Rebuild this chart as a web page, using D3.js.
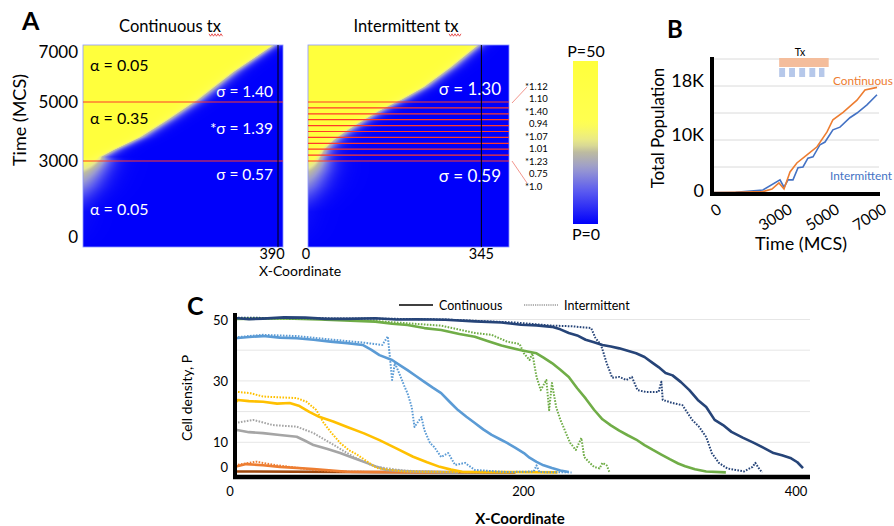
<!DOCTYPE html>
<html>
<head>
<meta charset="utf-8">
<script src="https://d3js.org/d3.v7.min.js"></script>
<style>
  body { margin: 0; background: #fff; }
  svg { font-family: Lato, "Open Sans", sans-serif; }
</style>
</head>
<body>
<svg id="fig" width="894" height="526"></svg>
<script>
// ---------------- panel A data ----------------
var hmTimeTicks = [0, 3000, 5000, 7000];
var contDoses = [3000, 5000];
var intDoses = [3000, 3200, 3400, 3600, 3800, 4000, 4200, 4400, 4600, 4800, 5000];
// front of the yellow (P=50) region
var contFrontT = [-390, 1000, 1500, 2000, 2600, 3000, 3140, 3370, 3810, 4390, 5080, 6200, 7280];
var contFrontX = [0, 0, 10, 22, 35, 42, 35, 60, 114, 168, 228, 300, 380];
var contPeak   = [0, 3, 10, 18, 26, 34, 50, 50, 50, 50, 50, 50, 50];
var contSpread = [16, 16, 16, 16, 15, 14, 11, 10, 10, 10, 10, 9, 8];
var intFrontT = [-390, 1000, 1500, 2000, 2600, 3000, 3030, 3370, 3710, 4050, 4390, 4730, 5080, 5600, 6400, 7280];
var intFrontX = [0, 0, 10, 20, 30, 32, 22, 30, 50, 78, 110, 144, 184, 230, 284, 338];
var intPeak   = [0, 3, 10, 18, 26, 34, 44, 50, 50, 50, 50, 50, 50, 50, 50, 50];
var intSpread = [16, 16, 16, 16, 15, 14, 13, 12, 11, 11, 10, 10, 10, 9, 9, 8];
var sigmaList = ["*1.12", "1.10", "*1.40", "0.94", "*1.07", "1.01", "*1.23", "0.75", "*1.0"];

// ---------------- panel B data ----------------
var timeCont = [0, 130, 1000, 2160, 2545, 2840, 3055, 3310, 3600, 4030, 4455, 4880, 5130, 5560, 6150, 6490, 7000];
var popCont  = [200, 200, 250, 350, 740, 1630, 740, 3260, 4600, 5800, 7000, 9200, 11000, 12100, 13900, 15400, 15800];
var timeInt = [0, 1000, 2160, 2885, 3055, 3225, 3435, 3650, 3860, 4070, 4285, 4580, 4795, 5130, 5430, 5850, 6150, 6575, 7000];
var popInt  = [200, 250, 600, 2100, 1000, 2100, 2100, 3900, 4000, 5300, 5500, 7300, 7700, 9500, 9900, 11300, 12000, 13200, 14700];
var txBar = [2850, 4950];
var txPulses = [[2850, 3100], [3270, 3520], [3700, 3950], [4130, 4380], [4540, 4770]];
var popTicks = [0, 8000, 16000];
var popTickLabels = ["0", "10K", "18K"];
var popGrid = [4000, 8000, 12000, 16000, 20000];
var timeTicksB = [0, 3000, 5000, 7000];

// ---------------- panel C data (x, P) ----------------
var navyCont = [[0,50.5],[10,50.1],[20,50.3],[35,50.7],[50,50.6],[65,50.2],[80,50.2],[100,50.4],[115,50],[130,50.1],[150,49.9],[171,49.4],[190,49],[204,48.3],[215,48.1],[226,47.6],[232,46.8],[238,45.6],[244,44.8],[250,43.4],[256,42.6],[262,41.7],[268,41.2],[274,40.6],[280,39.8],[286,39],[292,37.8],[298,35.8],[302,34.5],[307,32.6],[312,31.8],[318,29.6],[324,27],[330,23.8],[336,21.5],[342,17.3],[348,15.6],[354,13.4],[362,11.5],[370,9.8],[377,8.2],[384,6.5],[390,5.8],[396,4.9],[401,3.5],[405,1.6]];
var navyInt = [[0,50.6],[50,50.4],[100,50.3],[150,50],[200,49],[226,48],[240,47.8],[254,47.2],[257,44],[261,41.7],[265,35.8],[269,31],[274,31.3],[279,30.3],[283,31.3],[287,27],[293,26.4],[302,26.4],[304,29.7],[305,23.8],[312,22.8],[319,22.1],[326,17.3],[331,15],[336,11.7],[340,6.5],[345,3.3],[351,1.5],[357,1],[363,0.5],[369,2],[371,3.3],[374,1.2],[376,0.2]];
var greenCont = [[0,50.2],[30,50.4],[60,50],[100,49.3],[112,48.6],[123,48.2],[135,47.2],[147,46.6],[160,45.3],[171,44.4],[180,43],[190,41.5],[204,40],[215,39],[220,37.6],[226,35.8],[232,33.6],[238,31.3],[244,27.6],[250,24.3],[256,20.6],[262,17.5],[268,15.5],[274,13.8],[280,12.3],[286,10.9],[292,9.1],[298,7.5],[304,6],[310,4.5],[316,3.1],[321,2.2],[328,1.2],[336,0.5],[350,0.2]];
var greenInt = [[0,50.3],[60,50.2],[100,49.5],[147,48],[171,45.6],[183,45],[194,42.8],[203,42],[206,39],[210,36.8],[212,39],[215,31.3],[218,27],[222,30.3],[224,20.5],[226,29.3],[229,21.5],[232,17.3],[236,13],[239,9.8],[243,7.5],[247,11.4],[249,5.2],[253,3.3],[256,2],[260,1.5],[262,3.3],[265,2.5],[267,0.3]];
var blueCont = [[0,43.9],[10,44.3],[20,44.6],[32,44.1],[44,43.9],[56,43.4],[68,42.8],[80,42.3],[91,41.7],[97,40.2],[103,38.4],[112,36.8],[118,35],[123,33.5],[129,31.6],[135,29.7],[141,27.8],[147,26],[153,23.2],[159,20.5],[165,18.3],[171,16.3],[177,14.2],[183,12.4],[189,11],[194,9.8],[200,8.2],[206,6.5],[210,5],[215,3.6],[220,2.5],[226,1.6],[232,0.8],[238,0.3]];
var blueInt = [[0,44.2],[20,45],[44,44.6],[68,43.5],[91,42.5],[105,41.7],[109,44.5],[112,30.3],[114,35.8],[117,32.6],[121,28],[123,26],[126,21.5],[128,15],[131,17],[133,18.2],[135,14],[139,9.8],[142,8.5],[147,5.2],[152,6.5],[157,2.6],[164,3.3],[171,1],[194,0.3],[213,0.5],[215,2.5],[217,0.3],[240,0.2]];
var yellowCont = [[0,22.8],[2,23.8],[10,23.4],[20,23.2],[30,22.6],[39,22.8],[46,21.8],[53,19.9],[60,18.3],[70,16.8],[80,15],[92,12.9],[103,10.7],[115,8],[127,5.3],[137,3.5],[146,2],[154,1.1],[162,0.4],[230,0.2]];
var yellowInt = [[0,26.5],[11,26],[20,24.9],[44,24.4],[51,23.2],[58,20.5],[63,16.5],[68,13.5],[75,9.8],[81,7.5],[87,6],[95,3.5],[101,1.6],[120,0.5],[180,0.2]];
var grayCont = [[0,13.5],[1.4,14],[10,13.3],[20,13],[32,12.4],[44,11.8],[50,10.5],[56,9.1],[66,7.8],[75,6.5],[85,4.8],[94,3.3],[101,2],[108,1],[127,0.5],[159,0.2]];
var grayInt = [[0,16.3],[13,17.3],[27,15.6],[44,15.1],[56,13],[68,9.8],[80,6.5],[91,3.7],[101,2],[120,0.8],[150,0.2]];
var orangeCont = [[0,2],[8,2.9],[20,2.5],[32,2],[56,1.3],[80,0.4],[150,0.2]];
var orangeInt = [[0,2.5],[15,3.7],[30,2.5],[56,1],[80,0.4],[150,0.2]];
var brownCont = [[0,0.5],[100,0.3],[200,0.2]];
var densTicks = [0, 10, 30, 50];
var densGrid = [10, 20, 30, 40, 50];
var xTicksC = [0, 200, 400];

var svg = d3.select("#fig");
svg.append("rect").attr("width", 894).attr("height", 526).attr("fill", "#fff");

function txt(x, y, s, size, opts) {
  opts = opts || {};
  var t = svg.append("text").attr("x", x).attr("y", y).text(s)
    .attr("font-size", size).attr("fill", opts.fill || "#000")
    .attr("text-anchor", opts.anchor || "start")
    .attr("font-weight", opts.weight || "normal");
  if (opts.rotate) t.attr("transform", "rotate(" + opts.rotate + "," + x + "," + y + ")");
  return t;
}
function squiggle(x0, x1, y) {
  var pts = d3.range(x0, x1 + 0.1, 1.5).map(function(x, i) { return [x, y + (i % 2 ? 1.2 : -1.2)]; });
  svg.append("path").attr("d", d3.line()(pts)).attr("fill", "none").attr("stroke", "#e03030").attr("stroke-width", 0.8);
}

// ================= PANEL A =================
var hmTop = 45, hmBottom = 247;
var tScale = d3.scaleLinear().domain([-390, 3000, 5000, 7280]).range([hmBottom, 161, 102, hmTop]);
var heatColor = d3.scaleLinear()
  .domain([0, 10, 17, 22, 25, 31, 50])
  .range(["#0000fb", "#5a5af0", "#9a9ad0", "#bdbba0", "#e6e690", "#ffff50", "#ffff3c"]);

function drawHeat(x0, x1, fT, fX, fP, fW) {
  var w = x1 - x0, h = hmBottom - hmTop;
  var xs = d3.scaleLinear().domain([0, 400]).range([x0, x1]);
  var front = d3.scaleLinear().domain(fT).range(fX).clamp(true);
  var peak = d3.scaleLinear().domain(fT).range(fP).clamp(true);
  var spread = d3.scaleLinear().domain(fT).range(fW).clamp(true);
  var cv = document.createElement("canvas");
  cv.width = w; cv.height = h;
  var ctx = cv.getContext("2d");
  var img = ctx.createImageData(w, h);
  for (var py = 0; py < h; py++) {
    var t = tScale.invert(hmTop + py + 0.5);
    var f = front(t), pm = peak(t), sw = spread(t);
    for (var px = 0; px < w; px++) {
      var xv = xs.invert(x0 + px + 0.5);
      var p = pm / (1 + Math.exp((xv - f) / sw));
      var c = d3.rgb(heatColor(p));
      var k = (py * w + px) * 4;
      img.data[k] = c.r; img.data[k + 1] = c.g; img.data[k + 2] = c.b; img.data[k + 3] = 255;
    }
  }
  ctx.putImageData(img, 0, 0);
  svg.append("image").attr("x", x0).attr("y", hmTop).attr("width", w).attr("height", h)
    .attr("href", cv.toDataURL());
  svg.append("rect").attr("x", x0).attr("y", hmTop).attr("width", w).attr("height", h)
    .attr("fill", "none").attr("stroke", "#8c96ff").attr("stroke-width", 0.8);
  return xs;
}

var xsCont = drawHeat(83, 283, contFrontT, contFrontX, contPeak, contSpread);
var xsInt = drawHeat(308, 509, intFrontT, intFrontX, intPeak, intSpread);

// dose lines
contDoses.forEach(function(d) {
  svg.append("line").attr("x1", 83).attr("x2", 283).attr("y1", tScale(d)).attr("y2", tScale(d))
    .attr("stroke", "#ff3a2a").attr("stroke-width", 1.2);
});
intDoses.forEach(function(d) {
  svg.append("line").attr("x1", 308).attr("x2", 509).attr("y1", tScale(d)).attr("y2", tScale(d))
    .attr("stroke", "#ff3a2a").attr("stroke-width", 1.2);
});
// black position markers
svg.append("line").attr("x1", xsCont(390)).attr("x2", xsCont(390)).attr("y1", hmTop).attr("y2", hmBottom)
  .attr("stroke", "#000").attr("stroke-width", 1);
svg.append("line").attr("x1", xsInt(345)).attr("x2", xsInt(345)).attr("y1", hmTop).attr("y2", hmBottom)
  .attr("stroke", "#000").attr("stroke-width", 1);

txt(22, 30, "A", 25, {weight: "bold"});
txt(170, 32, "Continuous tx", 16.5, {anchor: "middle"});
squiggle(209, 223, 35);
txt(406, 32, "Intermittent tx", 16.5, {anchor: "middle"});
squiggle(449, 462, 35);

hmTimeTicks.forEach(function(d) {
  var y = d === 0 ? 237 : (d === 7000 ? 52 : tScale(d));
  txt(78, y + 6, d3.format("d")(d), 17, {anchor: "end"});
});
txt(26, 120, "Time (MCS)", 18, {anchor: "middle", rotate: -90});
txt(xsCont(390) - 6, 259, "390", 14.5, {anchor: "middle"});
txt(xsInt(0) - 2, 259, "0", 14.5, {anchor: "middle"});
txt(xsInt(345), 259, "345", 14.5, {anchor: "middle"});
txt(300, 276, "X-Coordinate", 14, {anchor: "middle"});

txt(90, 71, "\u03b1 = 0.05", 16);
txt(90, 124, "\u03b1 = 0.35", 16);
txt(90, 215, "\u03b1 = 0.05", 16, {fill: "#fff"});
txt(273, 97, "\u03c3 = 1.40", 15.5, {anchor: "end", fill: "#fff"});
txt(273, 134, "*\u03c3 = 1.39", 15.5, {anchor: "end", fill: "#fff"});
txt(273, 180, "\u03c3 = 0.57", 15.5, {anchor: "end", fill: "#fff"});
txt(501, 95, "\u03c3 = 1.30", 17, {anchor: "end", fill: "#fff"});
txt(501, 182, "\u03c3 = 0.59", 17, {anchor: "end", fill: "#fff"});

sigmaList.forEach(function(s, i) {
  var y = 89.5 + i * 12.5;
  var star = s.charAt(0) === "*";
  txt(529, y, star ? s.slice(1) : s, 9.5);
  if (star) txt(529, y, "*", 9.5, {anchor: "end"});
});
svg.append("line").attr("x1", 512).attr("y1", 103).attr("x2", 527).attr("y2", 87)
  .attr("stroke", "#f08a80").attr("stroke-width", 0.9);
svg.append("line").attr("x1", 512).attr("y1", 161).attr("x2", 527).attr("y2", 183)
  .attr("stroke", "#f08a80").attr("stroke-width", 0.9);

// colour bar (stops must run top -> bottom with rising offsets)
var defs = svg.append("defs");
var grad = defs.append("linearGradient").attr("id", "cbar").attr("x1", 0).attr("x2", 0).attr("y1", 0).attr("y2", 1);
d3.range(50, -1, -2).forEach(function(p) {
  grad.append("stop").attr("offset", 1 - p / 50).attr("stop-color", heatColor(p));
});
svg.append("rect").attr("x", 573).attr("y", 61).attr("width", 25).attr("height", 163).attr("fill", "url(#cbar)");
txt(586, 57, "P=50", 16, {anchor: "middle"});
txt(586, 240, "P=0", 16, {anchor: "middle"});

// ================= PANEL B =================
var xB = d3.scaleLinear().domain([0, 7000]).range([712, 877]);
var yB = d3.scaleLinear().domain([0, 20000]).range([194, 59]);
txt(667, 38, "B", 24, {weight: "bold"});
svg.selectAll(".gridB").data(popGrid).enter().append("line")
  .attr("x1", 712).attr("x2", 879).attr("y1", function(d) { return yB(d); }).attr("y2", function(d) { return yB(d); })
  .attr("stroke", "#dadada").attr("stroke-width", 1);
svg.append("rect").attr("x", xB(txBar[0])).attr("y", 58).attr("width", xB(txBar[1]) - xB(txBar[0])).attr("height", 9)
  .attr("fill", "#f4bd9c");
svg.selectAll(".pulse").data(txPulses).enter().append("rect")
  .attr("x", function(d) { return xB(d[0]); }).attr("y", 68)
  .attr("width", function(d) { return xB(d[1]) - xB(d[0]); }).attr("height", 9).attr("fill", "#b6c8ea");
txt(800, 56, "Tx", 10.5, {anchor: "middle"});

var lineB = d3.line().x(function(d) { return xB(d[0]); }).y(function(d) { return yB(d[1]); });
svg.append("path").attr("d", lineB(d3.zip(timeInt, popInt))).attr("fill", "none")
  .attr("stroke", "#4472c4").attr("stroke-width", 1.6);
svg.append("path").attr("d", lineB(d3.zip(timeCont, popCont))).attr("fill", "none")
  .attr("stroke", "#ed7d31").attr("stroke-width", 1.6);

svg.append("line").attr("x1", 712).attr("x2", 712).attr("y1", 57).attr("y2", 196).attr("stroke", "#000").attr("stroke-width", 4);
svg.append("line").attr("x1", 710).attr("x2", 880).attr("y1", 194).attr("y2", 194).attr("stroke", "#000").attr("stroke-width", 4);

popTicks.forEach(function(d, i) {
  txt(704, yB(d) + (d === 0 ? 3 : 1), popTickLabels[i], 18, {anchor: "end"});
});
timeTicksB.forEach(function(d) {
  var x = xB(d) + 5, y = 203;
  txt(x, y, d3.format("d")(d), 15.5, {anchor: "end", rotate: -32}).attr("dy", "0.7em");
});
txt(801, 250, "Time (MCS)", 18, {anchor: "middle"});
txt(664, 128, "Total Population", 17, {anchor: "middle", rotate: -90});
txt(833, 85, "Continuous", 11.8, {fill: "#ed7d31"});
txt(830, 180, "Intermittent", 11.8, {fill: "#4472c4"});

// ================= PANEL C =================
var xC = d3.scaleLinear().domain([0, 410]).range([235, 810]);
var yC = d3.scaleLinear().domain([0, 50]).range([473, 319.5]);
txt(187, 315, "C", 25, {weight: "bold"});
svg.selectAll(".gridC").data(densGrid).enter().append("line")
  .attr("x1", 235).attr("x2", 810).attr("y1", function(d) { return yC(d); }).attr("y2", function(d) { return yC(d); })
  .attr("stroke", "#e6e6e6").attr("stroke-width", 1);

var lineC = d3.line().x(function(d) { return xC(d[0]); }).y(function(d) { return yC(d[1]); });
var seriesC = [
  {data: brownCont, color: "#9e480e", dotted: false},
  {data: orangeInt, color: "#ed7d31", dotted: true},
  {data: orangeCont, color: "#ed7d31", dotted: false},
  {data: grayInt, color: "#a5a5a5", dotted: true},
  {data: grayCont, color: "#a5a5a5", dotted: false},
  {data: yellowInt, color: "#ffc000", dotted: true},
  {data: yellowCont, color: "#ffc000", dotted: false},
  {data: blueInt, color: "#5b9bd5", dotted: true},
  {data: blueCont, color: "#5b9bd5", dotted: false},
  {data: greenInt, color: "#70ad47", dotted: true},
  {data: greenCont, color: "#70ad47", dotted: false},
  {data: navyInt, color: "#264478", dotted: true},
  {data: navyCont, color: "#264478", dotted: false}
];
seriesC.forEach(function(s) {
  svg.append("path").attr("d", lineC(s.data)).attr("fill", "none")
    .attr("stroke", s.color).attr("stroke-width", s.dotted ? 2 : 2.6)
    .attr("stroke-dasharray", s.dotted ? "1.6,1.4" : null)
    .attr("stroke-linejoin", "round");
});

svg.append("line").attr("x1", 235).attr("x2", 235).attr("y1", 313).attr("y2", 479).attr("stroke", "#000").attr("stroke-width", 4);
svg.append("line").attr("x1", 233).attr("x2", 810).attr("y1", 477).attr("y2", 477).attr("stroke", "#000").attr("stroke-width", 4.5);

densTicks.forEach(function(d) {
  txt(228, yC(d) + (d === 0 ? -1 : 5), String(d), 13, {anchor: "end"});
});
xTicksC.forEach(function(d) {
  txt(xC(d) - (d === 0 ? 5 : 0) + (d === 200 ? 8 : 0), 496, String(d), 13, {anchor: "middle"});
});
txt(192, 398, "Cell density, P", 14, {anchor: "middle", rotate: -90});
txt(520, 524, "X-Coordinate", 15, {anchor: "middle", weight: "bold"});

svg.append("line").attr("x1", 399).attr("x2", 433).attr("y1", 305).attr("y2", 305).attr("stroke", "#000").attr("stroke-width", 1.4);
txt(439, 309.5, "Continuous", 12.5);
svg.append("line").attr("x1", 524).attr("x2", 558).attr("y1", 305).attr("y2", 305).attr("stroke", "#666")
  .attr("stroke-width", 1).attr("stroke-dasharray", "1.2,1");
txt(564, 309.5, "Intermittent", 12.5);
</script>
</body>
</html>
